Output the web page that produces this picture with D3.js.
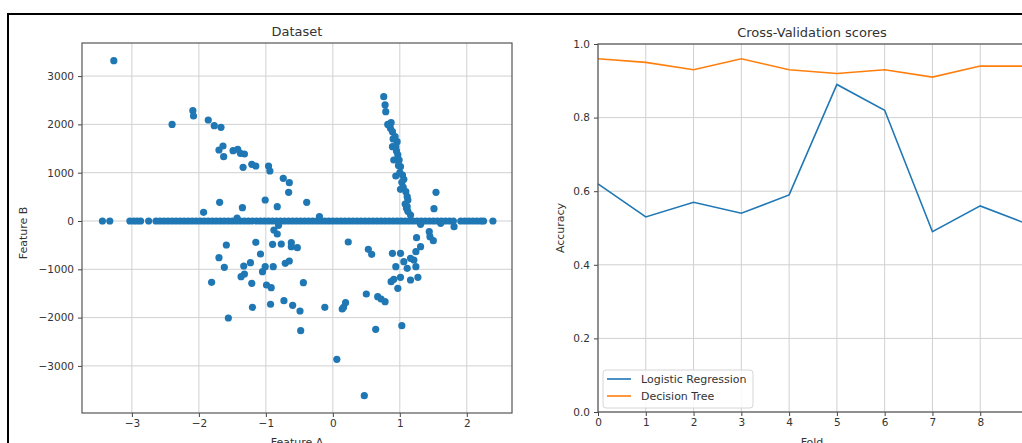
<!DOCTYPE html>
<meta charset="utf-8">
<style>
    body { margin: 0; background: white; }
    text { font-family: "DejaVu Sans", sans-serif; fill: #333; }
    .grid line { stroke: #d0d0d0; stroke-width: 1; }
    .axis path { display: none; }
    .axis line { stroke: #444; }
</style>
<script src="https://d3js.org/d3.v7.min.js"></script>
<body>
<script>

    // left panel: points sitting on Feature B = 0
    var bandA = [-3.44, -3.33, -3.03, -2.97, -2.92, -2.87, -2.75,
        -2.64, -2.58, -2.52, -2.46, -2.40, -2.34, -2.28, -2.22, -2.16, -2.10, -2.04, -1.98, -1.92,
        -1.86, -1.80, -1.74, -1.68, -1.62, -1.56, -1.50, -1.44, -1.38, -1.32, -1.26, -1.20, -1.14,
        -1.08, -1.02, -0.96, -0.90, -0.84, -0.78, -0.72, -0.66, -0.60, -0.54, -0.48, -0.42, -0.36,
        -0.30, -0.24, -0.18, -0.12, -0.06, 0.00, 0.06, 0.12, 0.18, 0.24, 0.30, 0.36, 0.42, 0.48,
        0.54, 0.60, 0.66, 0.72, 0.78, 0.84, 0.90, 0.96, 1.02, 1.08, 1.14, 1.20, 1.26, 1.32, 1.38,
        1.44, 1.50, 1.56, 1.62, 1.68, 1.74, 1.80, 1.91, 1.97, 2.03, 2.09, 2.15, 2.21, 2.25, 2.39]

    // left panel: the other points [Feature A, Feature B]
    var spread = [
        [-3.27, 3320], [-2.40, 2000], [-2.09, 2284], [-2.08, 2174], [-1.86, 2091], [-1.77, 1973],
        [-1.67, 1940], [-1.64, 1553], [-1.70, 1470], [-1.63, 1332], [-1.49, 1456], [-1.42, 1484],
        [-1.38, 1401], [-1.32, 1387], [-1.34, 1112], [-1.21, 1174], [-1.15, 1139], [-0.96, 1139],
        [-0.94, 1035], [-0.74, 884], [-0.65, 793], [-0.66, 594], [-0.39, 387], [-1.01, 435],
        [-0.83, 296], [-1.35, 275], [-1.69, 387], [-1.93, 180], [-0.20, 89], [-1.43, 62],
        [-1.59, -497], [-1.70, -760], [-1.62, -959], [-1.81, -1270], [-1.56, -2008], [-1.33, -932],
        [-1.32, -1097], [-1.37, -1153], [-1.23, -863], [-1.21, -1290], [-1.20, -1787], [-1.15, -441],
        [-1.08, -683], [-1.05, -1049], [-1.01, -946], [-0.99, -1325], [-0.92, -1381], [-0.93, -1724],
        [-0.90, -483], [-0.89, -946], [-0.88, -186], [-0.83, -269], [-0.81, -89], [-0.77, -476],
        [-0.73, -1650], [-0.71, -876], [-0.65, -828], [-0.62, -449], [-0.62, -532], [-0.60, -1745],
        [-0.53, -553], [-0.49, -1863], [-0.48, -2271], [-0.44, -1277], [-0.12, -1787], [0.06, -2863],
        [0.14, -1822], [0.47, -3617], [0.23, -435], [0.16, -1787], [0.19, -1691], [0.50, -1511],
        [0.53, -586], [0.58, -690], [0.64, -2243], [0.67, -1567], [0.72, -1615], [0.78, -1670],
        [0.87, -1256], [0.91, -1208], [0.97, -1394], [1.01, -1167], [1.03, -2167], [0.89, -669],
        [0.94, -946], [1.01, -669], [1.06, -842], [1.11, -980], [1.16, -1222], [1.21, -807],
        [1.24, -635], [1.27, -1167], [1.24, -946], [1.16, -773], [1.25, -345], [1.31, -532],
        [1.44, -221], [1.45, -325], [1.50, -408], [1.81, -118], [1.31, -68], [1.61, -48],
        [1.51, 255], [1.11, 296], [0.76, 2574], [0.78, 2402], [0.79, 2263], [0.87, 2036],
        [0.86, 1919], [0.89, 1850], [0.93, 1746], [0.96, 1643], [0.89, 1539], [0.94, 1539],
        [0.97, 1367], [0.91, 1263], [0.99, 1263], [1.01, 1124], [0.94, 932], [1.04, 952],
        [1.06, 863], [1.01, 656], [1.09, 607], [1.11, 503], [1.12, 435], [1.10, 263],
        [1.16, 124], [1.54, 594], [0.82, 2000], [0.90, 1700], [0.95, 1450], [0.98, 1150],
        [1.00, 1000], [1.03, 800], [1.05, 700], [1.08, 350], [1.12, 200]]

    var ticksA = [-3, -2, -1, 0, 1, 2]
    var ticksB = [-3000, -2000, -1000, 0, 1000, 2000, 3000]

    // right panel
    var folds = [0, 1, 2, 3, 4, 5, 6, 7, 8, 9]
    var foldTicks = [0, 1, 2, 3, 4, 5, 6, 7, 8]
    var logReg = [0.62, 0.53, 0.57, 0.54, 0.59, 0.89, 0.82, 0.49, 0.56, 0.51]
    var decTree = [0.96, 0.95, 0.93, 0.96, 0.93, 0.92, 0.93, 0.91, 0.94, 0.94]
    var accTicks = [0, 0.2, 0.4, 0.6, 0.8, 1.0]
    var seriesNames = ["Logistic Regression", "Decision Tree"]

    var blue = "#1f77b4"
    var orange = "#ff7f0e"

    var svg = d3.select("body")
        .append("svg")
        .attr("width", 1022)
        .attr("height", 443)

    // ---------- Dataset ----------
    var xA = d3.scaleLinear().domain([-3.745, 2.675]).range([82, 512])
    var yA = d3.scaleLinear().domain([-3975, 3685]).range([413, 43])

    var left = svg.append("g")

    left.append("g")
        .attr("class", "grid")
        .selectAll("line.v")
        .data(ticksA)
        .enter().append("line")
        .attr("x1", function (d) { return xA(d) })
        .attr("x2", function (d) { return xA(d) })
        .attr("y1", 43).attr("y2", 413)

    left.append("g")
        .attr("class", "grid")
        .selectAll("line.h")
        .data(ticksB)
        .enter().append("line")
        .attr("y1", function (d) { return yA(d) })
        .attr("y2", function (d) { return yA(d) })
        .attr("x1", 82).attr("x2", 512)

    left.append("g")
        .selectAll("circle.band")
        .data(bandA)
        .enter().append("circle")
        .attr("cx", function (d) { return xA(d) })
        .attr("cy", yA(0))
        .attr("r", 3.6)
        .attr("fill", blue)

    left.append("g")
        .selectAll("circle.spread")
        .data(spread)
        .enter().append("circle")
        .attr("cx", function (d) { return xA(d[0]) })
        .attr("cy", function (d) { return yA(d[1]) })
        .attr("r", 3.6)
        .attr("fill", blue)

    left.append("g")
        .attr("class", "axis")
        .attr("transform", "translate(0,413)")
        .call(d3.axisBottom(xA).tickValues(ticksA).tickSize(4).tickPadding(3).tickFormat(d3.format("d")))
        .selectAll("text").attr("font-size", "10.5px").attr("font-family", "DejaVu Sans").attr("fill", "#333")

    left.append("g")
        .attr("class", "axis")
        .attr("transform", "translate(82,0)")
        .call(d3.axisLeft(yA).tickValues(ticksB).tickSize(4).tickPadding(4).tickFormat(d3.format("d")))
        .selectAll("text").attr("font-size", "10.5px").attr("font-family", "DejaVu Sans").attr("fill", "#333")

    left.append("rect")
        .attr("x", 82).attr("y", 43)
        .attr("width", 430).attr("height", 370)
        .attr("fill", "none")
        .attr("stroke", "#555")
        .attr("stroke-width", 1.2)

    left.append("text")
        .text("Dataset")
        .attr("x", 297).attr("y", 36)
        .attr("text-anchor", "middle")
        .attr("font-size", "13px")

    left.append("text")
        .text("Feature A")
        .attr("x", 297).attr("y", 446)
        .attr("text-anchor", "middle")
        .attr("font-size", "11px")

    left.append("text")
        .text("Feature B")
        .attr("transform", "translate(27,233) rotate(-90)")
        .attr("text-anchor", "middle")
        .attr("font-size", "11px")

    // ---------- Cross-Validation scores ----------
    var xB = d3.scaleLinear().domain([0, 9]).range([598, 1028])
    var yB = d3.scaleLinear().domain([0, 1]).range([412, 44])

    var right = svg.append("g")

    right.append("g")
        .attr("class", "grid")
        .selectAll("line.v")
        .data(folds)
        .enter().append("line")
        .attr("x1", function (d) { return xB(d) })
        .attr("x2", function (d) { return xB(d) })
        .attr("y1", 44).attr("y2", 412)

    right.append("g")
        .attr("class", "grid")
        .selectAll("line.h")
        .data(accTicks)
        .enter().append("line")
        .attr("y1", function (d) { return yB(d) })
        .attr("y2", function (d) { return yB(d) })
        .attr("x1", 598).attr("x2", 1028)

    var line = d3.line()
        .x(function (d, i) { return xB(folds[i]) })
        .y(function (d) { return yB(d) })

    right.append("path")
        .attr("d", line(logReg))
        .attr("fill", "none")
        .attr("stroke", blue)
        .attr("stroke-width", 1.6)

    right.append("path")
        .attr("d", line(decTree))
        .attr("fill", "none")
        .attr("stroke", orange)
        .attr("stroke-width", 1.6)

    right.append("g")
        .attr("class", "axis")
        .attr("transform", "translate(0,412)")
        .call(d3.axisBottom(xB).tickValues(foldTicks).tickSize(4).tickPadding(3).tickFormat(d3.format("d")))
        .selectAll("text").attr("font-size", "10.5px").attr("font-family", "DejaVu Sans").attr("fill", "#333")

    right.append("g")
        .attr("class", "axis")
        .attr("transform", "translate(598,0)")
        .call(d3.axisLeft(yB).tickValues(accTicks).tickSize(4).tickPadding(4).tickFormat(d3.format(".1f")))
        .selectAll("text").attr("font-size", "10.5px").attr("font-family", "DejaVu Sans").attr("fill", "#333")

    right.append("rect")
        .attr("x", 598).attr("y", 44)
        .attr("width", 430).attr("height", 368)
        .attr("fill", "none")
        .attr("stroke", "#555")
        .attr("stroke-width", 1.2)

    right.append("text")
        .text("Cross-Validation scores")
        .attr("x", 812).attr("y", 37)
        .attr("text-anchor", "middle")
        .attr("font-size", "13px")

    right.append("text")
        .text("Fold")
        .attr("x", 812).attr("y", 446)
        .attr("text-anchor", "middle")
        .attr("font-size", "11px")

    right.append("text")
        .text("Accuracy")
        .attr("transform", "translate(564,228) rotate(-90)")
        .attr("text-anchor", "middle")
        .attr("font-size", "11px")

    // legend
    var legend = right.append("g").attr("transform", "translate(603,370)")

    legend.append("rect")
        .attr("width", 150).attr("height", 38)
        .attr("rx", 3)
        .attr("fill", "white")
        .attr("fill-opacity", 0.85)
        .attr("stroke", "#d6d6d6")

    legend.selectAll("g.item")
        .data(seriesNames)
        .enter().append("g")
        .attr("transform", function (d, i) { return "translate(0," + (9 + i * 17) + ")" })
        .each(function (d, i) {
            var g = d3.select(this)
            g.append("line")
                .attr("x1", 4).attr("x2", 28)
                .attr("stroke", i == 0 ? blue : orange)
                .attr("stroke-width", 1.6)
            g.append("text")
                .text(d)
                .attr("x", 38).attr("y", 4)
                .attr("font-size", "11px")
        })

    // outer frame of the screenshot
    svg.append("line")
        .attr("x1", 7).attr("x2", 1022)
        .attr("y1", 14).attr("y2", 14)
        .attr("stroke", "black").attr("stroke-width", 2)

    svg.append("line")
        .attr("x1", 8).attr("x2", 8)
        .attr("y1", 14).attr("y2", 443)
        .attr("stroke", "black").attr("stroke-width", 2)

</script>
</body>
